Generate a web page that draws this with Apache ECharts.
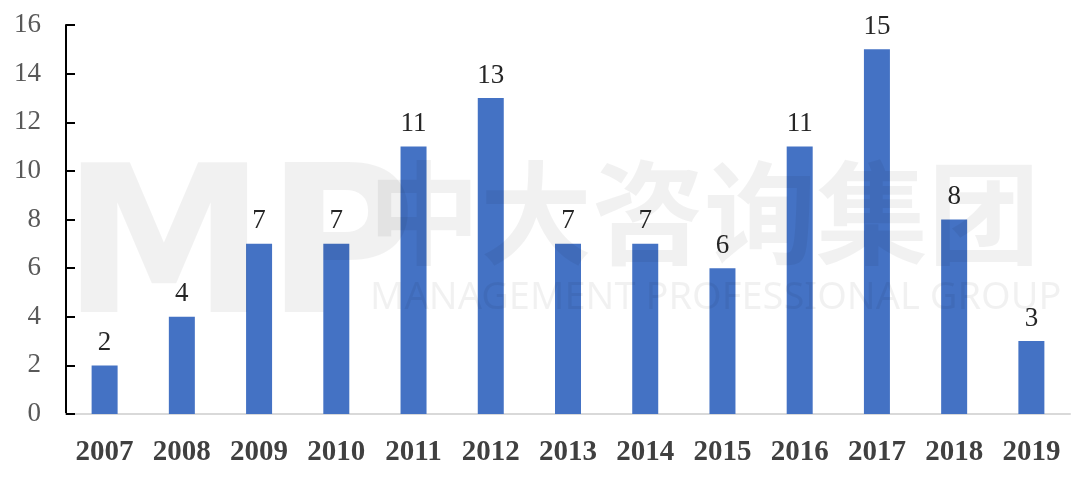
<!DOCTYPE html>
<html><head><meta charset="utf-8">
<script src="https://cdn.jsdelivr.net/npm/echarts@6/dist/echarts.min.js"></script>
<style>html,body{margin:0;padding:0;background:#fff}#c{width:1080px;height:477px}</style>
</head><body><div id="c"></div>
<script>
var categories = ['2007','2008','2009','2010','2011','2012','2013','2014','2015','2016','2017','2018','2019'];
var values = [2,4,7,7,11,13,7,7,6,11,15,8,3];
var yTicks = [0,2,4,6,8,10,12,14,16];

var chart = echarts.init(document.getElementById('c'));
var serif = '"Liberation Serif","Times New Roman",serif';
chart.setOption({
  backgroundColor: '#fff',
  animation: false,
  grid: {left: 66, right: 10, top: 25, bottom: 63},
  xAxis: {
    type: 'category', data: categories,
    axisLine: {lineStyle: {color: '#d9d9d9', width: 2}},
    axisTick: {show: false},
    axisLabel: {fontFamily: serif, fontSize: 29, fontWeight: 'bold', color: '#404040', margin: 24}
  },
  yAxis: {
    type: 'value', min: yTicks[0], max: yTicks[yTicks.length-1], interval: 2,
    axisLine: {show: true, lineStyle: {color: '#000', width: 2}},
    axisTick: {show: true, inside: true, length: 9, lineStyle: {color: '#000', width: 2}},
    splitLine: {show: false},
    axisLabel: {fontFamily: serif, fontSize: 27, color: '#595959', margin: 25}
  },
  series: [{
    type: 'bar', data: values, barWidth: 26,
    itemStyle: {color: '#4472C4'},
    label: {show: true, position: 'top', distance: 9, fontFamily: serif, fontSize: 27, color: '#262626'}
  }],
  graphic: [
    {type: 'text', z: 100, left: 62, top: 156, style: {text: 'MP', font: 'bold 205px "DejaVu Sans", sans-serif', fill: 'rgba(0,0,0,0.055)'}},
    {type: 'text', z: 100, left: 368, top: 157, style: {text: '中大咨询集团', font: 'bold 112px "Noto Sans CJK SC", sans-serif', fill: 'rgba(0,0,0,0.055)'}},
    {type: 'text', z: 100, left: 370, top: 279, style: {text: 'MANAGEMENT PROFESSIONAL GROUP', font: '38px "Noto Sans", sans-serif', fill: 'rgba(0,0,0,0.055)'}}
  ]
});
</script></body></html>
